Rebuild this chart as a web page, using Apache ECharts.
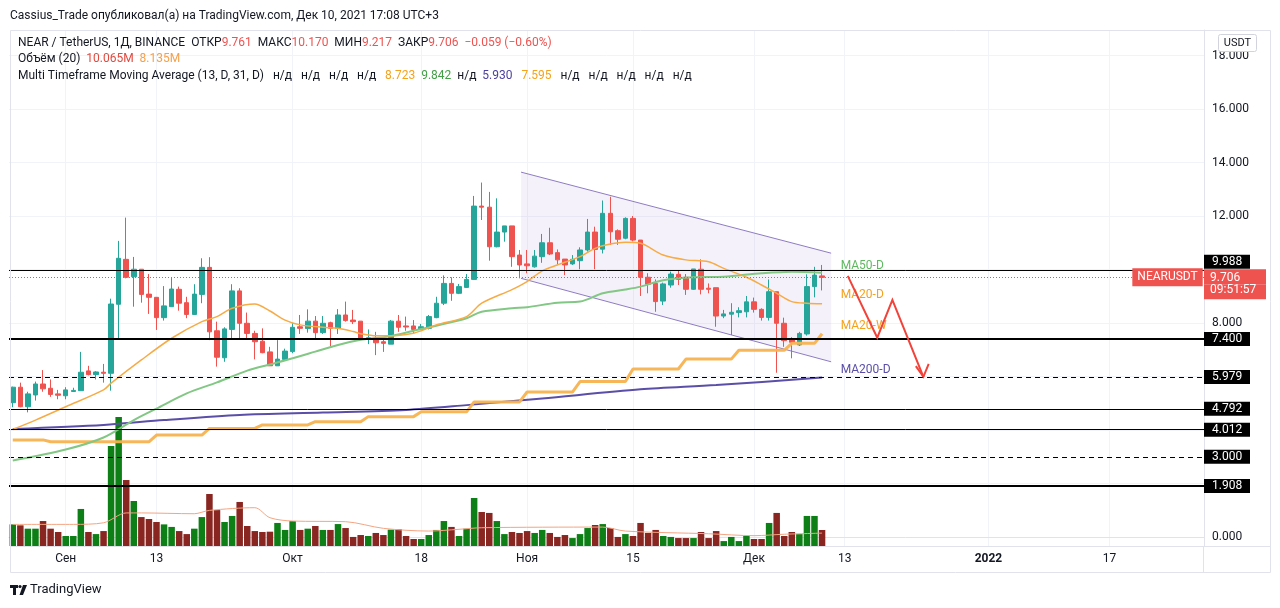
<!DOCTYPE html>
<html>
<head>
<meta charset="utf-8">
<title>NEAR / TetherUS</title>
<script src="https://cdn.jsdelivr.net/npm/echarts@6/dist/echarts.min.js"></script>
<style>
html,body{margin:0;padding:0;background:#ffffff;}
#chart{width:1280px;height:608px;}
</style>
</head>
<body>
<div id="chart"></div>
<script>
// ================= DATA =================
const startDateUTC = Date.UTC(2021, 7, 25); // first candle: 25 Aug 2021
const categoryCount = 158;                   // axis runs to end of Jan 2022

const xLabels = {
  '2021-09-01': 'Сен', '2021-09-13': '13', '2021-10-01': 'Окт', '2021-10-18': '18',
  '2021-11-01': 'Ноя', '2021-11-15': '15', '2021-12-01': 'Дек', '2021-12-13': '13',
  '2022-01-01': '2022', '2022-01-17': '17'
};

// daily candles [open, high, low, close]
const ohlc = [
  [5.02,5.62,4.85,5.60],[5.60,5.77,4.85,4.87],[4.87,5.43,4.66,5.35],[5.31,5.81,5.10,5.72],
  [5.72,6.24,5.43,5.54],[5.56,5.89,5.24,5.33],[5.35,5.50,5.15,5.30],[5.28,5.60,5.15,5.50],
  [5.44,5.58,5.42,5.48],[5.47,6.92,5.47,6.16],[6.21,6.40,6.04,6.07],[6.07,6.20,5.89,6.17],
  [6.16,6.47,5.77,6.12],[6.12,8.91,5.47,8.71],[8.70,11.07,7.39,10.42],[10.38,11.94,9.67,9.71],
  [9.73,10.47,8.61,10.01],[10.01,10.01,8.76,9.07],[9.08,9.83,8.34,8.96],[8.96,8.97,7.74,8.20],
  [8.20,9.38,8.09,8.64],[8.61,9.68,8.61,9.27],[9.26,9.36,8.46,8.74],[8.76,8.98,8.18,8.32],
  [8.32,9.45,8.30,9.08],[9.07,10.42,8.74,10.08],[10.08,10.46,7.36,7.67],[7.71,8.05,6.37,6.72],
  [6.70,7.84,6.55,7.78],[7.76,9.45,7.39,9.20],[9.20,9.30,7.43,7.99],[7.99,8.39,7.43,7.61],
  [7.61,7.71,6.64,7.30],[7.32,7.80,6.87,6.89],[6.92,7.11,6.40,6.40],[6.40,7.36,6.40,6.65],
  [6.64,7.04,6.62,6.95],[6.93,8.01,6.87,7.84],[7.86,8.30,7.59,7.80],[7.79,8.51,7.64,8.07],
  [8.07,8.26,7.39,7.64],[7.64,8.26,7.59,7.99],[8.01,8.05,7.14,7.80],[7.80,8.52,7.59,8.30],
  [8.30,8.80,8.05,8.09],[8.11,8.49,7.96,8.05],[8.07,8.07,7.36,7.39],[7.39,7.76,7.21,7.45],
  [7.43,7.67,6.80,7.26],[7.30,7.41,6.92,7.24],[7.21,8.11,7.21,8.07],[8.07,8.30,7.67,7.84],
  [7.89,8.24,7.71,7.85],[7.89,8.11,7.61,7.76],[7.76,7.96,7.74,7.86],[7.80,8.30,7.76,8.24],
  [8.20,8.98,8.18,8.74],[8.74,9.78,8.67,9.48],[9.48,9.71,8.83,9.11],[9.11,9.46,9.08,9.36],
  [9.33,9.83,9.31,9.63],[9.63,12.75,9.61,12.37],[12.37,13.25,11.85,12.33],[12.33,12.90,10.33,10.85],
  [10.85,12.66,10.83,11.40],[11.40,11.63,11.04,11.63],[11.63,11.63,10.10,10.48],[10.54,10.73,9.67,10.17],
  [10.21,10.73,9.86,10.14],[10.10,10.73,10.07,10.50],[10.48,11.33,10.25,11.00],[11.00,11.56,10.54,10.58],
  [10.63,10.75,10.19,10.36],[10.39,10.39,9.79,10.17],[10.21,10.54,10.17,10.38],[10.33,10.83,10.01,10.73],
  [10.73,11.89,10.67,11.40],[11.40,11.60,10.01,10.75],[10.76,12.58,10.60,12.10],[12.10,12.72,10.92,11.41],
  [11.45,11.50,10.92,11.13],[11.17,11.95,11.13,11.91],[11.91,12.00,11.05,11.10],[11.10,11.10,9.01,9.71],
  [9.71,9.86,9.11,9.45],[9.48,9.63,8.42,8.80],[8.82,9.51,8.67,9.46],[9.42,9.92,9.32,9.83],
  [9.82,9.98,9.42,9.63],[9.71,9.83,9.05,9.26],[9.26,10.02,9.24,10.02],[10.01,10.38,9.07,9.26],
  [9.30,9.48,9.11,9.26],[9.32,9.32,7.86,8.26],[8.26,8.49,8.18,8.34],[8.33,8.74,7.55,8.40],
  [8.39,8.59,8.21,8.46],[8.42,9.01,8.21,8.79],[8.79,8.95,8.39,8.51],[8.51,8.55,8.09,8.21],
  [8.21,9.63,8.09,9.17],[9.17,9.17,6.14,7.99],[7.99,8.20,7.11,7.34],[7.36,7.47,6.68,7.28],
  [7.18,7.67,7.14,7.61],[7.59,9.82,7.53,9.36],[9.36,10.10,8.96,9.79],[9.761,10.170,9.217,9.706]
];

// daily volume, millions
const volumes = [
  13.6,13.0,10.9,10.9,15.7,10.9,8.8,6.3,6.3,23.3,
  8.8,7.5,9.4,62.9,81.1,41.5,28.3,18.2,17.0,15.1,
  13.6,12.0,9.4,7.5,10.9,18.2,32.7,22.6,15.1,18.9,
  27.7,12.6,9.4,8.8,9.0,14.5,10.1,15.7,10.1,10.9,
  12.6,10.1,10.1,13.8,11.3,5.7,6.9,6.3,8.2,6.9,
  10.3,10.5,6.3,4.4,4.4,6.9,10.1,15.7,12.0,6.3,
  10.9,30.2,21.4,20.8,15.7,7.5,8.8,8.2,9.4,8.2,
  10.1,8.2,5.7,6.9,5.0,7.5,11.3,13.2,13.8,11.3,
  5.7,7.5,6.3,14.5,8.2,10.1,6.3,5.7,5.0,5.0,
  5.0,8.8,5.0,9.4,3.1,5.7,3.1,6.3,4.4,4.4,
  14.5,20.8,6.3,8.8,7.5,18.9,18.9,10.065
];

// indicator lines: [candle index, value]
const volumeMA = [[0,13.6],[8,13.6],[12,14.6],[15,20.8],[17,20.8],[24,20.3],[26,22.4],[32,24.1],[34,17.8],[37,15.7],[44,15.3],[49,11.1],[55,9.4],[59,10.5],[62,11.5],[78,11.9],[81,9.4],[92,7.7],[98,6.5],[102,7.4],[107,8.1]];
const ma20D = [[0,4.02],[3,4.37],[7,4.87],[12,5.50],[13,5.75],[17,6.62],[21,7.43],[25,8.05],[27,8.24],[29,8.55],[32,8.71],[34,8.45],[36,8.11],[38,7.93],[41,7.84],[43,7.80],[45,7.68],[46,7.60],[48,7.52],[50,7.52],[53,7.62],[54,7.71],[56,7.93],[60,8.24],[62,8.74],[66,9.25],[68,9.55],[70,9.95],[72,10.17],[75,10.48],[77,10.79],[79,10.95],[81,11.02],[83,10.98],[86,10.54],[89,10.36],[92,10.29],[94,10.04],[97,9.71],[99,9.42],[101,9.11],[103,8.80],[105,8.74],[107,8.72]];
const ma50D = [[0,2.86],[7,3.27],[12,3.72],[16,4.37],[19,4.80],[23,5.37],[27,5.78],[31,6.22],[34,6.45],[37,6.68],[40,6.93],[43,7.18],[46,7.37],[48,7.44],[50,7.51],[53,7.71],[56,7.90],[60,8.18],[62,8.42],[66,8.55],[68,8.59],[72,8.76],[75,8.80],[78,9.11],[81,9.25],[83,9.36],[86,9.60],[90,9.71],[94,9.73],[99,9.86],[103,9.92],[107,9.88]];
const ma200D = [[0,4.04],[12,4.19],[20,4.37],[30,4.56],[41,4.65],[52,4.75],[60,4.93],[70,5.18],[83,5.52],[93,5.68],[107,5.96]];
const ma20WWeekStart = [0,5,12,19,26,33,40,47,54,61,68,75,82,89,96,103];
const ma20WWeekValue = [3.63,3.56,3.56,3.81,4.06,4.19,4.31,4.50,4.68,5.05,5.42,5.81,6.28,6.65,6.98,7.24];
const ma20WLastValue = 7.60;

// price axis / levels
const priceTickLabels = [0, 8, 12, 14, 16, 18];
const priceGridValues = [0, 2, 4, 6, 8, 10, 12, 14, 16, 18];
const levelValues = [9.988, 7.400, 5.979, 4.792, 4.012, 3.000, 1.908];
const levelWidths = [1, 2, 1, 1, 1, 1, 2];
const levelDashed = [false, false, true, false, false, true, false];
const lastPrice = 9.706;
const countdown = '09:51:57';
const symbolName = 'NEARUSDT';

// drawings: [fractional candle index, price]
const channelUpper = [[67.2, 13.64], [108.2, 10.61]];
const channelLower = [[67.2, 9.67], [108.2, 6.55]];
const arrowPath = [[110.4, 9.76], [114.3, 7.45], [116.3, 8.86], [120.4, 5.99]];
const arrowHead = [[119.4, 6.39], [120.4, 5.99], [121.1, 6.47]];
const maTagText = ['MA50-D', 'MA20-D', 'MA20-W', 'MA200-D'];
const maTagValue = [10.14, 9.05, 7.89, 6.24];
const maTagColor = ['#5fb760', '#f5a21b', '#f5a21b', '#5a4ea8'];
const maTagIndex = 109;

// ================= BUILD =================
const FONT = 'Roboto, "Noto Sans", sans-serif';
const UP = '#26a69a', DOWN = '#ef5350';
const VOL_UP = '#0d7f16', VOL_DOWN = '#8a2621';

const dates = [];
for (let i = 0; i < categoryCount; i++) {
  dates.push(new Date(startDateUTC + i * 86400000).toISOString().slice(0, 10));
}
const candleData = ohlc.map(([o, h, l, c]) => [o, c, l, h]);
const volumeData = volumes.map((v, i) => ({
  value: v,
  itemStyle: { color: ohlc[i][3] >= ohlc[i][0] ? VOL_UP : VOL_DOWN }
}));
const ma20W = ohlc.map((_, i) => {
  if (i === ohlc.length - 1) return [i, ma20WLastValue];
  let k = 0;
  for (let j = 0; j < ma20WWeekStart.length; j++) if (ma20WWeekStart[j] <= i) k = j;
  return [i, ma20WWeekValue[k]];
});

const chart = echarts.init(document.getElementById('chart'), null, { renderer: 'canvas' });

function pt(api, x, v) {
  const i = Math.floor(x);
  const p = api.coord([i, v]);
  const bw = api.size([1, 0])[0];
  return [p[0] + (x - i) * bw, p[1]];
}

const levelMarkLines = levelValues.map((v, k) => ({
  yAxis: v,
  lineStyle: { color: '#000000', width: levelWidths[k], type: levelDashed[k] ? [5, 4] : 'solid' }
}));
levelMarkLines.push({ yAxis: lastPrice, lineStyle: { color: '#ef5350', width: 1, type: [1, 2] } });

const last = ohlc[ohlc.length - 1];
const SP3 = '   ', SP2 = '  ';
const nd = 'н/д';

const option = {
  animation: false,
  backgroundColor: '#ffffff',
  textStyle: { fontFamily: FONT },
  grid: { left: 9, right: 76, top: 30, bottom: 62, containLabel: false },
  xAxis: {
    type: 'category',
    data: dates,
    boundaryGap: true,
    axisLine: { show: true, lineStyle: { color: '#e0e3eb' } },
    axisTick: { show: false },
    splitLine: { show: false },
    axisLabel: {
      interval: (idx, val) => xLabels[val] !== undefined,
      formatter: (val) => (val === '2022-01-01' ? '{b|2022}' : (xLabels[val] || '')),
      color: '#131722', fontSize: 12, margin: 7, fontFamily: FONT,
      rich: { b: { fontWeight: 'bold', fontSize: 12, color: '#131722', fontFamily: FONT } }
    }
  },
  yAxis: [
    {
      type: 'value', position: 'right', min: -0.3364, max: 18.9533,
      axisLine: { show: true, lineStyle: { color: '#e0e3eb' } },
      axisTick: { show: false },
      splitLine: { show: false },
      axisLabel: {
        margin: 0,
        customValues: priceTickLabels.concat(levelValues, [lastPrice]),
        formatter: function (v) {
          const s = Number(v).toFixed(3);
          if (Math.abs(v - lastPrice) < 1e-6) return '{e|}\n{r1|' + s + '}\n{r2|' + countdown + '}';
          if (Math.abs(v - levelValues[0]) < 1e-6) return '{b|' + s + '}\n{e2|}';
          if (levelValues.some(x => Math.abs(x - v) < 1e-6)) return '{b|' + s + '}';
          return '{g|' + s + '}';
        },
        rich: {
          g: { color: '#131722', fontSize: 12, padding: [0, 8, 0, 8], fontFamily: FONT },
          b: { color: '#ffffff', backgroundColor: '#000000', fontSize: 12, lineHeight: 14, padding: [1, 8, 1, 8], width: 30, fontFamily: FONT },
          r1: { color: '#ffffff', backgroundColor: '#ef5350', fontSize: 12, lineHeight: 15, padding: [3, 6, 0, 6], width: 50, fontFamily: FONT },
          r2: { color: '#ffffff', backgroundColor: '#ef5350', fontSize: 12, lineHeight: 15, padding: [0, 6, 3, 6], width: 50, fontFamily: FONT },
          e: { lineHeight: 14, fontSize: 12 },
          e2: { lineHeight: 16, fontSize: 12 }
        }
      }
    },
    { type: 'value', min: 0, max: 324.6, show: false }
  ],
  series: [
    {
      name: 'volume', type: 'bar', xAxisIndex: 0, yAxisIndex: 1, z: 1, silent: true,
      data: volumeData, barCategoryGap: '14%',
      markLine: {
        silent: true, symbol: 'none', z: 0, animation: false,
        label: { show: false },
        lineStyle: { color: '#f0f3fa', width: 1, type: 'solid' },
        data: Object.keys(xLabels).map(d => ({ xAxis: d }))
      }
    },
    {
      name: 'volMA', type: 'line', yAxisIndex: 1, z: 1, silent: true,
      data: volumeMA, symbol: 'none', smooth: 0.3,
      lineStyle: { color: '#f4a582', width: 1 }
    },
    {
      name: 'channel', type: 'custom', z: 1, silent: true, data: [[0, 0]],
      renderItem: function (params, api) {
        const u0 = pt(api, channelUpper[0][0], channelUpper[0][1]);
        const u1 = pt(api, channelUpper[1][0], channelUpper[1][1]);
        const l0 = pt(api, channelLower[0][0], channelLower[0][1]);
        const l1 = pt(api, channelLower[1][0], channelLower[1][1]);
        return {
          type: 'group', children: [
            { type: 'polygon', shape: { points: [u0, u1, l1, l0] }, style: { fill: 'rgba(149,117,205,0.10)' } },
            { type: 'line', shape: { x1: u0[0], y1: u0[1], x2: u1[0], y2: u1[1] }, style: { stroke: '#8e7cc3', lineWidth: 1 } },
            { type: 'line', shape: { x1: l0[0], y1: l0[1], x2: l1[0], y2: l1[1] }, style: { stroke: '#8e7cc3', lineWidth: 1 } }
          ]
        };
      },
      markLine: {
        silent: true, symbol: 'none', z: 0, animation: false,
        label: { show: false },
        lineStyle: { color: '#f0f3fa', width: 1, type: 'solid' },
        data: priceGridValues.map(v => ({ yAxis: v }))
      }
    },
    {
      name: 'NEAR', type: 'candlestick', z: 2, silent: true,
      data: candleData, barWidth: 5,
      itemStyle: { color: UP, color0: DOWN, borderColor: UP, borderColor0: DOWN, borderWidth: 1 }
    },
    {
      name: 'MA200-D', type: 'line', z: 3, silent: true, data: ma200D, symbol: 'none', smooth: 0.3,
      lineStyle: { color: '#5a4ea8', width: 2 }
    },
    {
      name: 'MA20-W', type: 'line', z: 3, silent: true, data: ma20W, symbol: 'none',
      lineStyle: { color: '#f7b24f', width: 3, opacity: 0.95 }
    },
    {
      name: 'MA50-D', type: 'line', z: 3, silent: true, data: ma50D, symbol: 'none', smooth: 0.3,
      lineStyle: { color: '#82c784', width: 2 }
    },
    {
      name: 'MA20-D', type: 'line', z: 3, silent: true, data: ma20D, symbol: 'none', smooth: 0.3,
      lineStyle: { color: '#f7ab45', width: 1.5 }
    },
    {
      name: 'drawings', type: 'custom', z: 6, silent: true, data: [[0, 0]],
      renderItem: function (params, api) {
        const path = arrowPath.map(p => pt(api, p[0], p[1]));
        const head = arrowHead.map(p => pt(api, p[0], p[1]));
        return {
          type: 'group', children: [
            { type: 'polyline', shape: { points: path }, style: { stroke: '#f2433a', lineWidth: 2, fill: null } },
            { type: 'polyline', shape: { points: head }, style: { stroke: '#f2433a', lineWidth: 2, fill: null } }
          ]
        };
      },
      markLine: {
        silent: true, symbol: 'none', z: 5, animation: false,
        label: { show: false },
        data: levelMarkLines
      },
      markPoint: {
        silent: true, symbol: 'circle', symbolSize: 1, animation: false,
        itemStyle: { color: 'rgba(0,0,0,0)' },
        data: [
          {
            coord: [dates[categoryCount - 1], lastPrice],
            label: {
              show: true, position: 'left', distance: -3, formatter: symbolName,
              color: '#ffffff', backgroundColor: '#ef5350', fontSize: 12, padding: [3, 5, 3, 5], fontFamily: FONT
            }
          }
        ].concat(maTagText.map((t, k) => ({
          coord: [dates[maTagIndex], maTagValue[k]],
          label: { show: true, position: 'right', distance: 3, formatter: t, color: maTagColor[k], fontSize: 12, fontFamily: FONT }
        })))
      }
    }
  ],
  graphic: [
    { type: 'rect', z: 100, silent: true, shape: { x: 10.5, y: 30.5, width: 1260, height: 542 }, style: { fill: 'none', stroke: '#e0e3eb', lineWidth: 1 } },
    { type: 'line', z: 100, silent: true, shape: { x1: 10, y1: 546.5, x2: 1270, y2: 546.5 }, style: { stroke: '#e0e3eb', lineWidth: 1 } },
    { type: 'line', z: 100, silent: true, shape: { x1: 1203.5, y1: 546, x2: 1203.5, y2: 572 }, style: { stroke: '#e0e3eb', lineWidth: 1 } },
    { type: 'text', z: 100, x: 10, y: 16, style: { text: 'Cassius_Trade опубликовал(а) на TradingView.com, Дек 10, 2021 17:08 UTC+3', font: '12px ' + FONT, fill: '#131722', verticalAlign: 'middle' } },
    { type: 'text', z: 100, x: 18, y: 42.5, style: {
      text: 'NEAR / TetherUS, 1Д, BINANCE  ОТКР{r|' + last[0].toFixed(3) + '}  МАКС{r|' + last[1].toFixed(3) + '}  МИН{r|' + last[2].toFixed(3) + '}  ЗАКР{r|' + last[3].toFixed(3) + '}  {r|−0.059 (−0.60%)}',
      font: '12px ' + FONT, fill: '#131722', verticalAlign: 'middle',
      rich: { r: { fill: '#ef5350', font: '12px ' + FONT } }
    } },
    { type: 'text', z: 100, x: 18, y: 59, style: {
      text: 'Объём (20)  {v|' + volumes[volumes.length - 1].toFixed(3) + 'M}  {o|8.135M}',
      font: '12px ' + FONT, fill: '#131722', verticalAlign: 'middle',
      rich: { v: { fill: '#e04a3f', font: '12px ' + FONT }, o: { fill: '#f5a04a', font: '12px ' + FONT } }
    } },
    { type: 'text', z: 100, x: 18, y: 76, style: {
      text: 'Multi Timeframe Moving Average (13, D, 31, D)' + SP3 + [nd, nd, nd, nd].join(SP3) + SP3 +
            '{o|8.723}' + SP2 + '{g|9.842}' + SP2 + nd + SP2 + '{p|5.930}' + SP3 + '{o|7.595}' + SP3 +
            [nd, nd, nd, nd, nd].join(SP3),
      font: '12px ' + FONT, fill: '#131722', verticalAlign: 'middle',
      rich: { o: { fill: '#f5a21b', font: '12px ' + FONT }, g: { fill: '#43a047', font: '12px ' + FONT }, p: { fill: '#4b3fa0', font: '12px ' + FONT } }
    } },
    { type: 'rect', z: 100, silent: true, shape: { x: 1218.5, y: 34.5, width: 38, height: 17, r: 2 }, style: { fill: '#ffffff', stroke: '#d1d4dc', lineWidth: 1 } },
    { type: 'text', z: 101, x: 1237.5, y: 43, style: { text: 'USDT', font: '11px ' + FONT, fill: '#131722', align: 'center', verticalAlign: 'middle' } },
    { type: 'rect', z: 100, silent: true, shape: { x: 10, y: 585, width: 8, height: 3 }, style: { fill: '#131722' } },
    { type: 'rect', z: 100, silent: true, shape: { x: 13, y: 585, width: 3, height: 10 }, style: { fill: '#131722' } },
    { type: 'circle', z: 100, silent: true, shape: { cx: 20, cy: 586.5, r: 1.6 }, style: { fill: '#131722' } },
    { type: 'polygon', z: 100, silent: true, shape: { points: [[23, 585], [27, 585], [23, 595], [19.5, 595]] }, style: { fill: '#131722' } },
    { type: 'text', z: 100, x: 30, y: 590, style: { text: 'TradingView', font: '13px ' + FONT, fill: '#131722', verticalAlign: 'middle' } }
  ]
};

chart.setOption(option);
</script>
</body>
</html>
